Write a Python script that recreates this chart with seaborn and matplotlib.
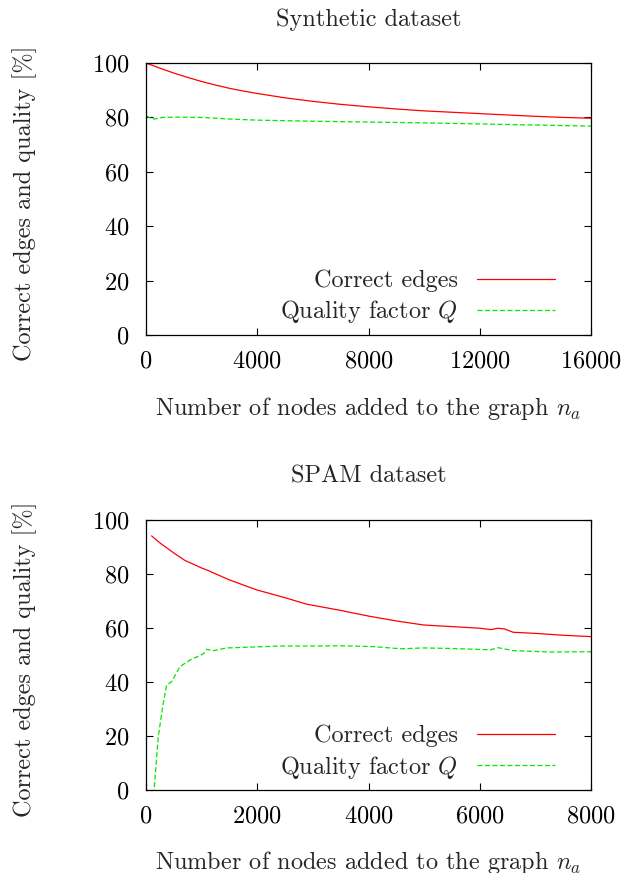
import numpy as np
import pandas as pd
import seaborn as sns
import matplotlib.pyplot as plt

# synthetic dataset
syn_x_edges = [0, 500, 1000, 1500, 2000, 2500, 3000, 3500, 4000, 5000, 6000, 7000, 8000, 9000,
               10000, 11000, 12000, 13000, 14000, 15000, 16000]
syn_edges = [100, 98.1, 96.3, 94.7, 93.2, 91.9, 90.7, 89.7, 88.8, 87.2, 85.9, 84.8, 83.9, 83.1,
             82.4, 81.9, 81.4, 80.9, 80.4, 80.0, 79.7]
syn_x_q = [0, 150, 300, 600, 1000, 2000, 3000, 4000, 6000, 8000, 10000, 12000, 14000, 16000]
syn_q = [80.6, 79.8, 79.4, 80.0, 80.1, 80.0, 79.4, 79.0, 78.6, 78.3, 78.0, 77.6, 77.2, 76.8]

# SPAM dataset
spam_x_edges = [100, 250, 490, 700, 1000, 1090, 1500, 1990, 2500, 2890, 3500, 4000,
                4500, 4990, 5500, 6000, 6200, 6330, 6450, 6600, 7000, 7500, 8000]
spam_edges = [94.1, 91.5, 87.9, 85.0, 82.2, 81.5, 77.8, 74.1, 71.2, 68.8, 66.5, 64.4,
              62.6, 61.1, 60.5, 59.9, 59.4, 59.9, 59.6, 58.4, 58.0, 57.3, 56.8]
spam_x_q = [100, 145, 220, 300, 370, 460, 610, 790, 1030, 1090, 1210, 1450, 2000, 2410,
            3000, 3500, 4090, 4570, 5000, 5500, 6190, 6330, 6600, 7270, 8000]
spam_q = [-10, 0, 19.7, 31.0, 38.9, 40.1, 45.7, 48.1, 50.4, 52.1, 51.6, 52.6, 53.0, 53.3,
          53.3, 53.4, 53.1, 52.3, 52.6, 52.4, 51.9, 52.7, 51.6, 51.1, 51.2]

sns.set_theme(style="ticks")
plt.rcParams['font.family'] = 'serif'
plt.rcParams['font.serif'] = ['cmr10']
plt.rcParams['mathtext.fontset'] = 'cm'
plt.rcParams['axes.formatter.use_mathtext'] = True
plt.rcParams['axes.unicode_minus'] = False

fs = 17.5
red = '#ff0000'
green = '#00e800'

fig = plt.figure(figsize=(6.36, 8.73), dpi=100)
ax1 = fig.add_axes([0.2296, 0.6163, 0.6997, 0.3115])
ax2 = fig.add_axes([0.2296, 0.0951, 0.6997, 0.3093])

panels = [
    (ax1, "Synthetic dataset", syn_x_edges, syn_edges, syn_x_q, syn_q, 16000, 4000),
    (ax2, "SPAM dataset", spam_x_edges, spam_edges, spam_x_q, spam_q, 8000, 2000),
]

for ax, title, xe, ye, xq, yq, xmax, xstep in panels:
    sns.lineplot(x=xe, y=ye, ax=ax, color=red, linewidth=0.9, label="Correct edges")
    sns.lineplot(x=xq, y=yq, ax=ax, color=green, linewidth=0.9, label="Quality factor $Q$",
                 dashes=False)
    ax.lines[1].set_dashes([4, 2])
    ax.set_xlim(0, xmax)
    ax.set_ylim(0, 100)
    ax.set_xticks(np.arange(0, xmax + 1, xstep))
    ax.set_yticks(np.arange(0, 101, 20))
    ax.tick_params(direction='in', top=True, right=True, length=5, width=0.8,
                   labelsize=fs, colors='black')
    ax.tick_params(axis='y', pad=12)
    ax.tick_params(axis='x', pad=11)
    for s in ax.spines.values():
        s.set_linewidth(0.9)
        s.set_color('black')
    ax.set_title(title, fontsize=fs, pad=27)
    ax.set_xlabel("Number of nodes added to the graph $n_a$", fontsize=fs)
    ax.set_ylabel("Correct edges and quality [%]", fontsize=fs)
    ax.xaxis.set_label_coords(0.5, -0.22)
    ax.yaxis.set_label_coords(-0.245, 0.485)
    leg = ax.legend(loc='lower right', bbox_to_anchor=(0.919, 0.035), frameon=False,
                    fontsize=fs, markerfirst=False, handlelength=3.2, handletextpad=0.8,
                    labelspacing=0.25, borderpad=0, borderaxespad=0)

fig.savefig("out.png", dpi=100)
